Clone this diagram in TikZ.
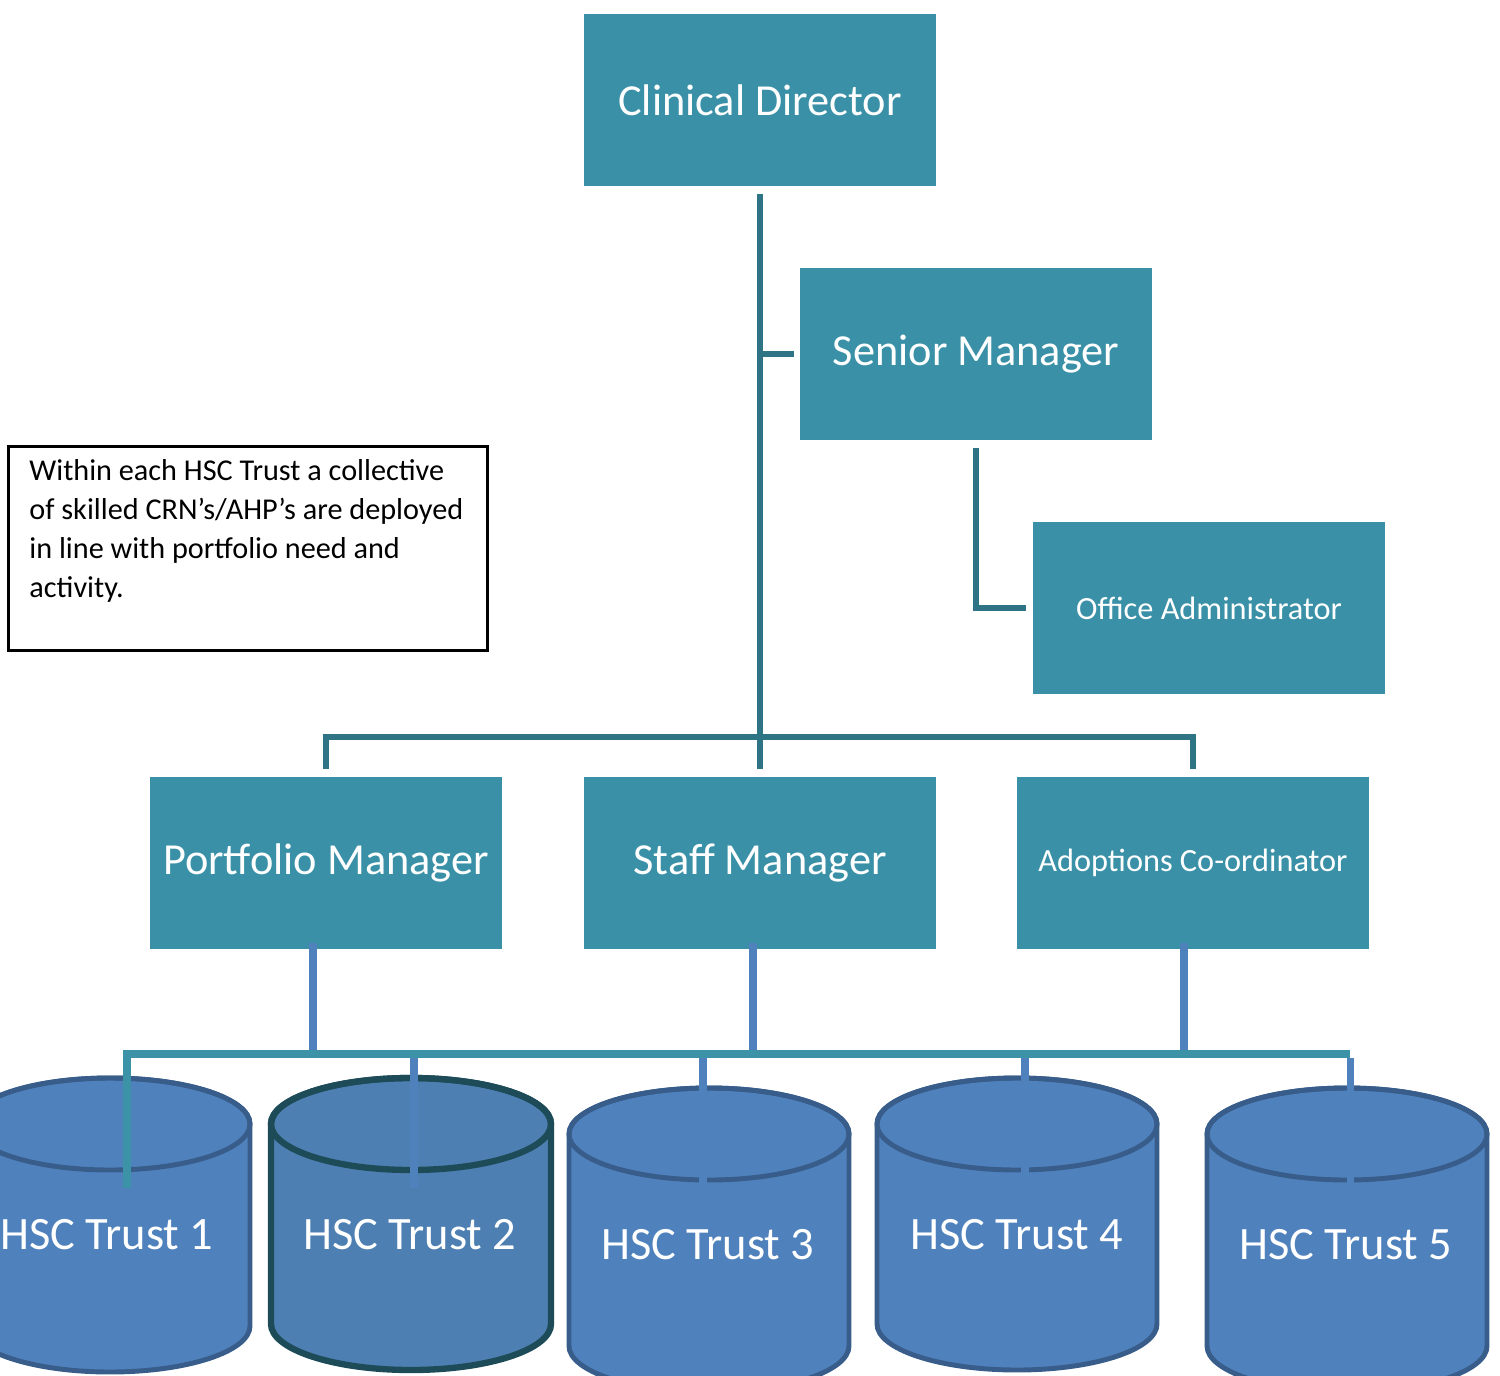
\documentclass[tikz,border=0pt]{standalone}
\usepackage{fontspec}
\setmainfont{Carlito}
\usetikzlibrary{positioning}

\definecolor{boxteal}{HTML}{3A91A7}
\definecolor{linkteal}{HTML}{2E7484}
\definecolor{barteal}{HTML}{3C93A8}
\definecolor{trustblue}{HTML}{4F81BD}
\definecolor{trustedge}{HTML}{385D8A}
\definecolor{trustblueb}{HTML}{4D7FB2}
\definecolor{trustedgeb}{HTML}{1E4B58}

\begin{document}
\begin{tikzpicture}[
  x=0.01cm, y=0.01cm,
  role/.style={fill=boxteal, text=white, inner sep=0pt,
               minimum width=3.52cm, minimum height=1.72cm,
               font=\fontsize{12.6}{15}\selectfont},
  rolesmall/.style={role, font=\fontsize{9.2}{11}\selectfont},
  note/.style={draw=black, line width=0.8pt, anchor=north west, inner sep=0pt,
               minimum width=4.79cm, minimum height=2.04cm},
  tline/.style={draw=linkteal, line width=1.7pt},
  hline/.style={draw=barteal, line width=2pt},
  bline/.style={draw=trustblue, line width=2pt},
  trust/.style={text=white, font=\fontsize{13.2}{15}\selectfont}
]
\useasboundingbox (0,0) rectangle (1500,-1376);

% the five trusts
\foreach \cx/\ctop/\cbot/\cfill/\cedge/\cw in {
    110/1078/1372/trustblue/trustedge/1.4pt,
    411/1078/1370/trustblueb/trustedgeb/1.8pt,
    709/1088/1392/trustblue/trustedge/1.4pt,
    1017/1078/1370/trustblue/trustedge/1.4pt,
    1347/1088/1392/trustblue/trustedge/1.4pt} {
  \pgfmathsetmacro\yc{-(\ctop+46)}
  \pgfmathsetmacro\yb{-(\cbot-46)}
  \path[fill=\cfill, draw=\cedge, line width=\cw]
    (\cx-140,\yc) -- (\cx-140,\yb)
    arc[start angle=180, end angle=360, x radius=140, y radius=46]
    -- (\cx+140,\yc)
    arc[start angle=0, end angle=180, x radius=140, y radius=46] -- cycle;
  \draw[\cedge, line width=\cw] (\cx,\yc) ellipse[x radius=140, y radius=46];
}
\node[trust] (t1) at (107,-1235) {HSC Trust 1};
\node[trust] (t2) at (410,-1235) {HSC Trust 2};
\node[trust] (t3) at (708,-1245) {HSC Trust 3};
\node[trust] (t4) at (1017,-1235) {HSC Trust 4};
\node[trust] (t5) at (1346,-1245) {HSC Trust 5};

% roles
\node[role]      (cd)  at (760,-100)  {Clinical Director};
\node[role]      (sen) at (976,-354)  {Senior Manager};
\node[rolesmall] (off) at (1209,-608) {Office Administrator};
\node[role]      (pm)  at (326,-863)  {Portfolio Manager};
\node[role]      (stm) at (760,-863)  {Staff Manager};
\node[rolesmall] (ac)  at (1193,-863) {Adoptions Co-ordinator};

\node[note] (nt) at (7,-445) {\hspace{0.13cm}\parbox[t][1.98cm][t]{4.5cm}{%
  \fontsize{8.6}{11.1}\selectfont\vspace{0.1cm}%
  Within each HSC Trust a collective\\
  of skilled CRN’s/AHP’s are deployed\\
  in line with portfolio need and\\
  activity.}};

% reporting lines
\coordinate (bar) at (760,-737);
\draw[tline, shorten <=0.07cm, shorten >=0.07cm] (cd.south) -- (stm.north);
\draw[tline] (cd.south |- sen.west) -- ([xshift=-0.05cm]sen.west);
\draw[tline] ([yshift=-0.07cm]sen.south) |- ([xshift=-0.06cm]off.west);
\draw[tline] ([yshift=0.07cm]pm.north) -- (pm.north |- bar)
             -- (ac.north |- bar) -- ([yshift=0.07cm]ac.north);

% links down to the trusts
\coordinate (c1) at (127,-1188);
\coordinate (c2) at (414,-1188);
\coordinate (c3) at (703,-1188);
\coordinate (c4) at (1025,-1188);
\coordinate (c5) at (1350,-1188);
\coordinate (hr) at (1350,-1054);
\draw[bline] ([xshift=-0.13cm,yshift=0.07cm]pm.south) -- ([xshift=-0.13cm]pm.south |- hr);
\draw[bline] ([xshift=-0.07cm,yshift=0.07cm]stm.south) -- ([xshift=-0.07cm]stm.south |- hr);
\draw[bline] ([xshift=-0.09cm,yshift=0.07cm]ac.south) -- ([xshift=-0.09cm]ac.south |- hr);
\draw[hline] (c1) |- (hr);
\foreach \c in {c2,c3,c4,c5}
  \draw[bline] (\c) -- ([yshift=-0.04cm]\c |- hr);
\end{tikzpicture}
\end{document}
